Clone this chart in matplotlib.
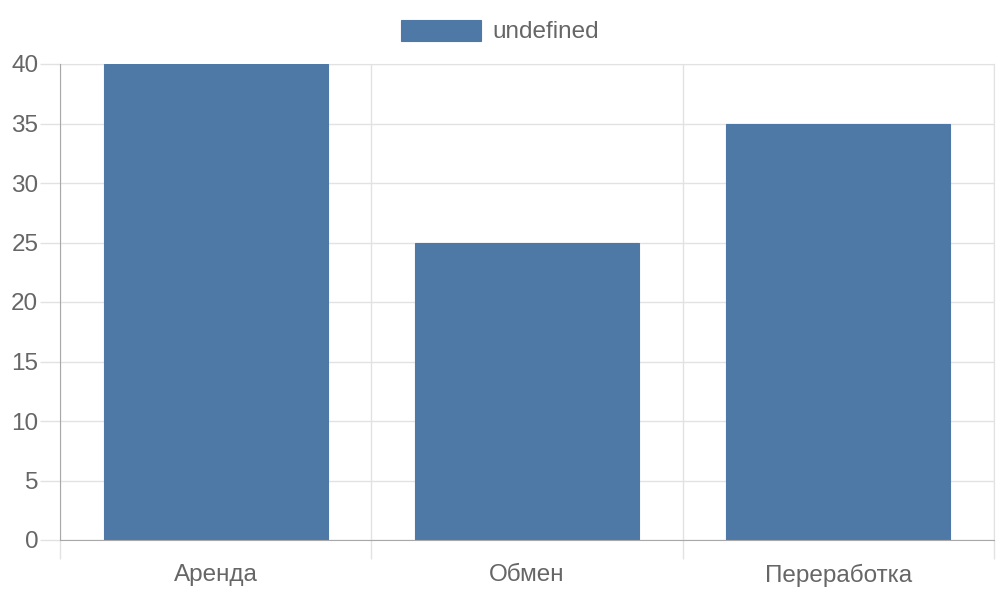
import matplotlib
matplotlib.use("Agg")
import matplotlib.pyplot as plt

categories = ["Аренда", "Обмен", "Переработка"]
values = [40, 25, 35]
series_label = "undefined"
y_ticks = [0, 5, 10, 15, 20, 25, 30, 35, 40]

plt.rcParams['font.family'] = ['Liberation Sans', 'DejaVu Sans']
BAR = "#4e79a7"
GRID = "#e2e2e2"
AXIS = "#a8a8a8"
TXT = "#666666"
FS = 17.5

fig = plt.figure(figsize=(10, 6), dpi=100)
ax = fig.add_axes([0.060, 0.100, 0.934, 476/600])

x = list(range(len(categories)))
bars = ax.bar(x, values, width=0.72, color=BAR, edgecolor=BAR, linewidth=0.8,
              label=series_label, zorder=3)

ax.set_xlim(-0.5, len(categories) - 0.5)
ax.set_ylim(0, 40)
ax.set_yticks(y_ticks)
ax.set_xticks(x)
ax.set_xticklabels(categories)
ax.set_xticks([i - 0.5 for i in range(len(categories) + 1)], minor=True)

ax.tick_params(axis='y', length=14.4, width=1, color=GRID, pad=1.2,
               labelsize=FS, labelcolor=TXT)
ax.tick_params(axis='x', which='major', length=13.5, width=0, pad=4,
               labelsize=FS, labelcolor=TXT)
ax.tick_params(axis='x', which='minor', length=13.5, width=1, color=GRID)
ax.grid(axis='y', color=GRID, linewidth=1, zorder=0)
ax.grid(axis='x', which='minor', color=GRID, linewidth=1, zorder=0)
ax.grid(axis='x', which='major', visible=False)
ax.set_axisbelow(True)

for s in ['top', 'right']:
    ax.spines[s].set_color(GRID)
for s in ['left', 'bottom']:
    ax.spines[s].set_color(AXIS)
    ax.spines[s].set_zorder(4)

leg = fig.legend(loc='center', bbox_to_anchor=(0.5, 1 - 31.5/600), frameon=False,
                 fontsize=FS, handlelength=3.3, handleheight=0.95,
                 handletextpad=0.5, labelcolor=TXT)

fig.savefig("out.png", dpi=100)
